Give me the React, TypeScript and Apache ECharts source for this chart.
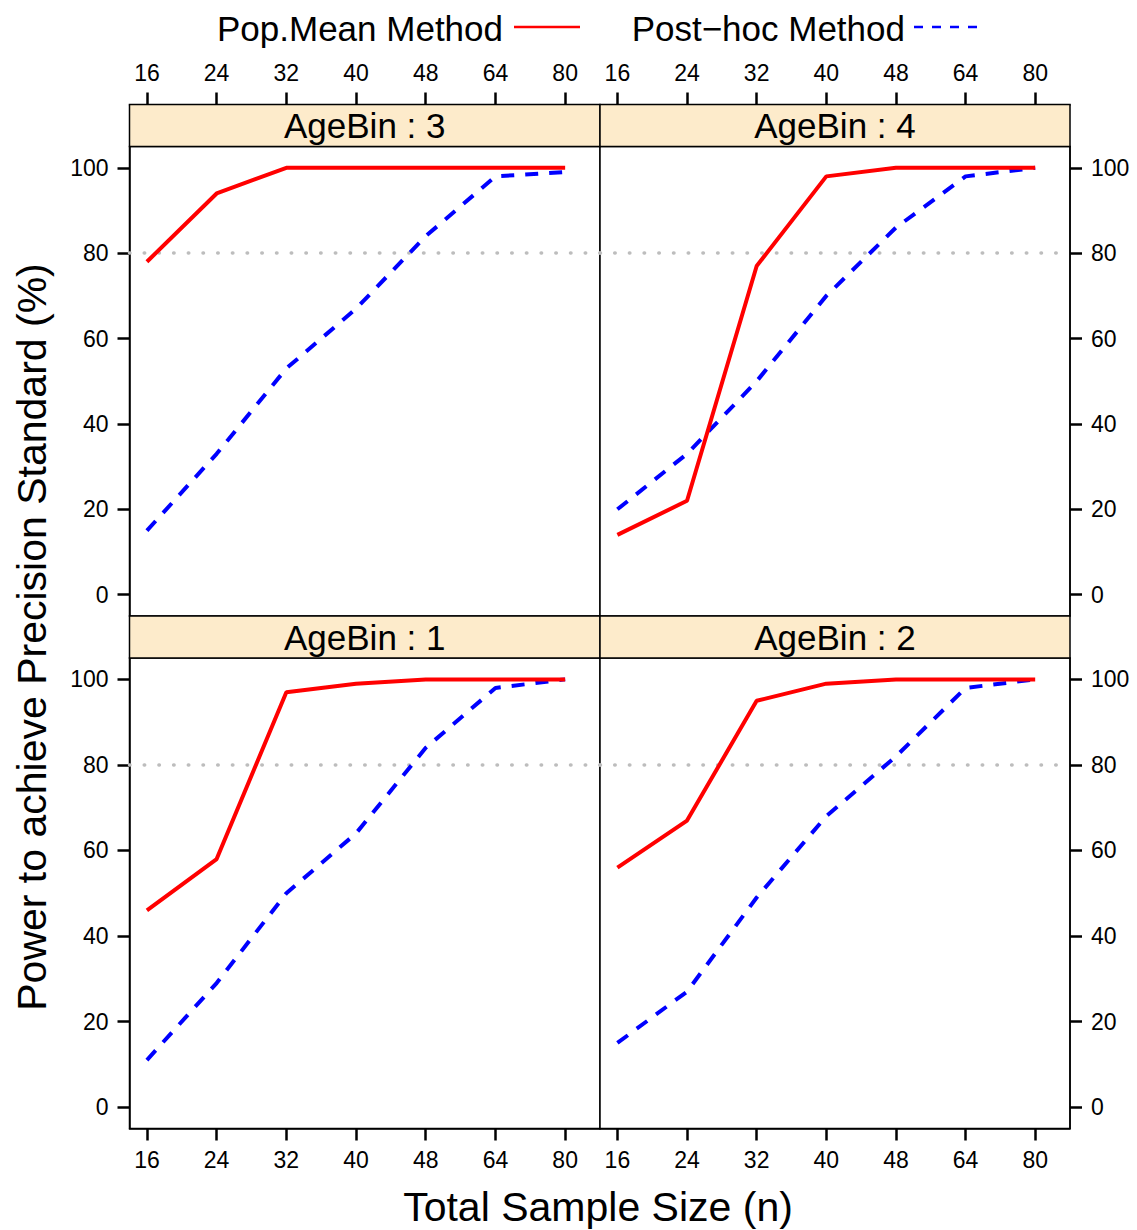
import React, { useEffect, useRef } from "react";
import * as echarts from "echarts";

// ---- data ----
const sampleSizes = ["16", "24", "32", "40", "48", "64", "80"];
const xPositions = [1, 2, 3, 4, 5, 6, 7];
const yTicks = [0, 20, 40, 60, 80, 100];
const panelNames = ["AgeBin : 3", "AgeBin : 4", "AgeBin : 1", "AgeBin : 2"];

const popMeanBin3 = [78, 94, 100, 100, 100, 100, 100];
const popMeanBin4 = [14, 22, 77, 98, 100, 100, 100];
const popMeanBin1 = [46, 58, 97, 99, 100, 100, 100];
const popMeanBin2 = [56, 67, 95, 99, 100, 100, 100];

const postHocBin3 = [15, 33, 53, 67, 84, 98, 99];
const postHocBin4 = [20, 33, 50, 70, 86, 98, 100];
const postHocBin1 = [11, 29, 50, 64, 84, 98, 100];
const postHocBin2 = [15, 27, 49, 68, 82, 98, 100];

const precisionTarget = 80;

const popMeanPanels = [popMeanBin3, popMeanBin4, popMeanBin1, popMeanBin2];
const postHocPanels = [postHocBin3, postHocBin4, postHocBin1, postHocBin2];

const POP = "Pop.Mean Method";
const POST = "Post\u2212hoc Method";

// ---- layout ----
const FONT = "'Liberation Sans', Arial, Helvetica, sans-serif";
const STRIP_H = 42;
const TICK_LEN = 12;
const RED = "#FF0000";
const BLUE = "#0000FF";
const DASH = [13, 11];
const grids = [
  { left: 129.5, top: 146.5, width: 470.5, height: 469.5 },
  { left: 600, top: 146.5, width: 470, height: 469.5 },
  { left: 129.5, top: 658, width: 470.5, height: 470.5 },
  { left: 600, top: 658, width: 470, height: 470.5 },
];

export default function App() {
  const ref = useRef<HTMLDivElement>(null);

  useEffect(() => {
    if (!ref.current) return;
    const chart = echarts.init(ref.current, null, { renderer: "svg" });

    const toPairs = (vals: number[]) => xPositions.map((x, i) => [x, vals[i]]);

    const xAxes = grids.map((g, i) => {
      const top = i < 2;
      return {
        type: "value",
        gridIndex: i,
        min: 0.75,
        max: 7.5,
        position: top ? "top" : "bottom",
        offset: top ? STRIP_H : 0,
        axisLine: { show: true, onZero: false, lineStyle: { color: "#000", width: 1.5 } },
        axisTick: {
          show: true,
          inside: false,
          length: TICK_LEN,
          customValues: xPositions,
          lineStyle: { color: "#000", width: 2.5 },
        },
        axisLabel: {
          show: true,
          customValues: xPositions,
          margin: TICK_LEN + 8,
          fontSize: 23,
          fontFamily: FONT,
          color: "#000",
          formatter: (v: number) => sampleSizes[Math.round(v) - 1] ?? "",
        },
        splitLine: { show: false },
      };
    });

    const yAxes = grids.map((g, i) => {
      const left = i % 2 === 0;
      return {
        type: "value",
        gridIndex: i,
        min: -5,
        max: 105,
        position: left ? "left" : "right",
        axisLine: { show: true, onZero: false, lineStyle: { color: "#000", width: 1.5 } },
        axisTick: {
          show: true,
          inside: false,
          length: TICK_LEN,
          customValues: yTicks,
          lineStyle: { color: "#000", width: 2.5 },
        },
        axisLabel: {
          show: true,
          customValues: yTicks,
          margin: TICK_LEN + 9,
          fontSize: 23,
          fontFamily: FONT,
          color: "#000",
        },
        splitLine: { show: false },
      };
    });

    const series: any[] = [];
    grids.forEach((g, i) => {
      series.push({
        name: POP,
        type: "line",
        xAxisIndex: i,
        yAxisIndex: i,
        data: toPairs(popMeanPanels[i]),
        symbol: "none",
        lineStyle: { color: RED, width: 4, type: "solid" },
        itemStyle: { color: RED },
        markLine: {
          silent: true,
          symbol: "none",
          label: { show: false },
          lineStyle: { color: "#bdbdbd", width: 3.5, type: [0.5, 14.2], cap: "round" },
          data: [{ yAxis: precisionTarget }],
          z: 1,
        },
        z: 3,
      });
      series.push({
        name: POST,
        type: "line",
        xAxisIndex: i,
        yAxisIndex: i,
        data: toPairs(postHocPanels[i]),
        symbol: "none",
        lineStyle: { color: BLUE, width: 4, type: DASH },
        itemStyle: { color: BLUE },
        z: 2,
      });
    });

    const graphics: any[] = [];
    grids.forEach((g, i) => {
      graphics.push({
        type: "rect",
        shape: { x: g.left, y: g.top - STRIP_H, width: g.width, height: STRIP_H },
        style: { fill: "#FDEBCB", stroke: "#000", lineWidth: 1.5 },
        z: 10,
      });
      graphics.push({
        type: "text",
        x: g.left + g.width / 2,
        y: g.top - STRIP_H / 2,
        style: {
          text: panelNames[i],
          fontSize: 35,
          fontFamily: FONT,
          fill: "#000",
          align: "center",
          verticalAlign: "middle",
        },
        z: 11,
      });
    });
    // legend (lattice style: text followed by line sample)
    graphics.push({
      type: "text",
      x: 503,
      y: 28,
      style: { text: POP, fontSize: 35, fontFamily: FONT, fill: "#000", align: "right", verticalAlign: "middle" },
    });
    graphics.push({
      type: "line",
      shape: { x1: 514, y1: 27, x2: 580, y2: 27 },
      style: { stroke: RED, lineWidth: 2.5 },
    });
    graphics.push({
      type: "text",
      x: 905,
      y: 28,
      style: { text: POST, fontSize: 35, fontFamily: FONT, fill: "#000", align: "right", verticalAlign: "middle" },
    });
    graphics.push({
      type: "line",
      shape: { x1: 914, y1: 27, x2: 980, y2: 27 },
      style: { stroke: BLUE, lineWidth: 2.5, lineDash: [9, 9] },
    });
    graphics.push({
      type: "text",
      x: 598,
      y: 1207,
      style: {
        text: "Total Sample Size (n)",
        fontSize: 41,
        fontFamily: FONT,
        fill: "#000",
        align: "center",
        verticalAlign: "middle",
      },
    });
    graphics.push({
      type: "text",
      x: 32,
      y: 637,
      rotation: Math.PI / 2,
      style: {
        text: "Power to achieve Precision Standard (%)",
        fontSize: 41,
        fontFamily: FONT,
        fill: "#000",
        align: "center",
        verticalAlign: "middle",
      },
    });

    chart.setOption({
      animation: false,
      backgroundColor: "#fff",
      textStyle: { fontFamily: FONT },
      grid: grids.map((g) => ({
        ...g,
        show: true,
        borderColor: "#000",
        borderWidth: 1.5,
        backgroundColor: "#fff",
        containLabel: false,
      })),
      xAxis: xAxes,
      yAxis: yAxes,
      series,
      graphic: graphics,
    });

    return () => chart.dispose();
  }, []);

  return (
    <div
      ref={ref}
      style={{ position: "absolute", left: 0, top: 0, width: 1137, height: 1230 }}
    />
  );
}
